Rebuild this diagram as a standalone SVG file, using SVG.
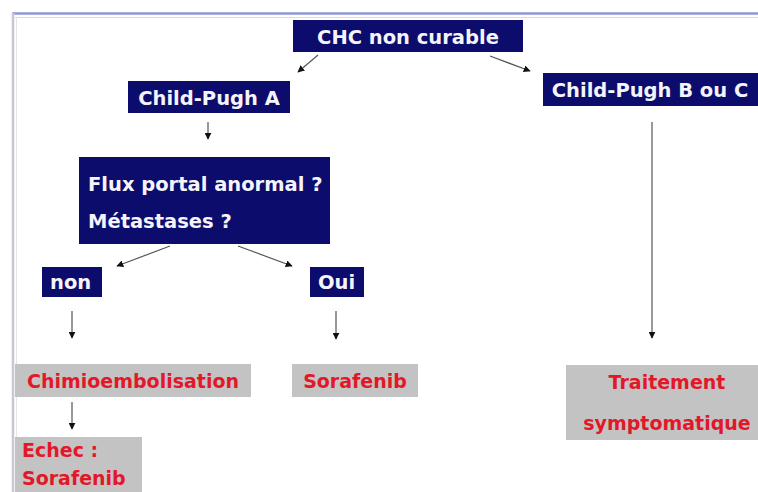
<svg xmlns="http://www.w3.org/2000/svg" width="758" height="492" viewBox="0 0 758 492">
<defs>
<marker id="ah" viewBox="0 0 10 10" refX="9" refY="5" markerWidth="7" markerHeight="7" orient="auto" markerUnits="userSpaceOnUse">
<path d="M0,0 L10,5 L0,10 z" fill="#111"/>
</marker>
<style>
.nb{fill:#0c0c6c}
.gb{fill:#c3c3c3}
.wt{fill:#f4f4fa;font-family:"DejaVu Sans",Verdana,sans-serif;font-weight:bold;font-size:19.5px}
.rt{fill:#e2182a;font-family:"DejaVu Sans",Verdana,sans-serif;font-weight:bold;font-size:19px}
.ln{stroke:#555;stroke-width:1.2;fill:none;marker-end:url(#ah)}
</style>
</defs>
<rect width="758" height="492" fill="#ffffff"/>
<g id="frame">
<line x1="12" y1="13.5" x2="758" y2="13.5" stroke="#8c98d6" stroke-width="2.5"/>
<line x1="15" y1="17.5" x2="758" y2="17.5" stroke="#dcdcdc" stroke-width="1"/>
<line x1="13" y1="13" x2="13" y2="492" stroke="#c8c8d0" stroke-width="2.5"/>
<line x1="16.5" y1="17" x2="16.5" y2="492" stroke="#e4e4e4" stroke-width="1"/>
</g>
<g id="connectors">
<line class="ln" x1="318" y1="55" x2="298" y2="72"/>
<line class="ln" x1="490" y1="56" x2="530" y2="71"/>
<line class="ln" x1="208" y1="122" x2="208" y2="139"/>
<line class="ln" x1="170" y1="246" x2="117" y2="266"/>
<line class="ln" x1="238" y1="246" x2="292" y2="266"/>
<line class="ln" x1="72" y1="311" x2="72" y2="338"/>
<line class="ln" x1="336" y1="311" x2="336" y2="339"/>
<line class="ln" x1="72" y1="402" x2="72" y2="429"/>
<line class="ln" x1="652" y1="122" x2="652" y2="338"/>
</g>
<g id="n-chc">
<rect class="nb" x="293" y="20" width="230" height="32"/>
<text class="wt" x="408" y="43.5" text-anchor="middle">CHC non curable</text>
</g>
<g id="n-cpa">
<rect class="nb" x="128" y="81" width="162" height="32"/>
<text class="wt" x="209" y="104.5" text-anchor="middle">Child-Pugh A</text>
</g>
<g id="n-cpbc">
<rect class="nb" x="543" y="73" width="215" height="33"/>
<text class="wt" x="650" y="97" text-anchor="middle">Child-Pugh B ou C</text>
</g>
<g id="n-flux">
<rect class="nb" x="79" y="157" width="251" height="87"/>
<text class="wt" x="88" y="191" font-size="20.5">Flux portal anormal ?</text>
<text class="wt" x="88" y="228" font-size="20.5">Métastases ?</text>
</g>
<g id="n-non">
<rect class="nb" x="42" y="267" width="60" height="30"/>
<text class="wt" x="50" y="289" font-size="13">non</text>
</g>
<g id="n-oui">
<rect class="nb" x="310" y="267" width="54" height="30"/>
<text class="wt" x="318" y="289" font-size="13">Oui</text>
</g>
<g id="n-chimio">
<rect class="gb" x="15" y="364" width="236" height="33"/>
<text class="rt" x="133" y="388" text-anchor="middle">Chimioembolisation</text>
</g>
<g id="n-sora">
<rect class="gb" x="292" y="364" width="126" height="33"/>
<text class="rt" x="355" y="388" text-anchor="middle">Sorafenib</text>
</g>
<g id="n-echec">
<rect class="gb" x="15" y="437" width="127" height="55"/>
<text class="rt" x="22" y="457">Echec :</text>
<text class="rt" x="22" y="485">Sorafenib</text>
</g>
<g id="n-trait">
<rect class="gb" x="566" y="365" width="192" height="75"/>
<text class="rt" x="667" y="389" text-anchor="middle">Traitement</text>
<text class="rt" x="667" y="430" text-anchor="middle">symptomatique</text>
</g>
</svg>
